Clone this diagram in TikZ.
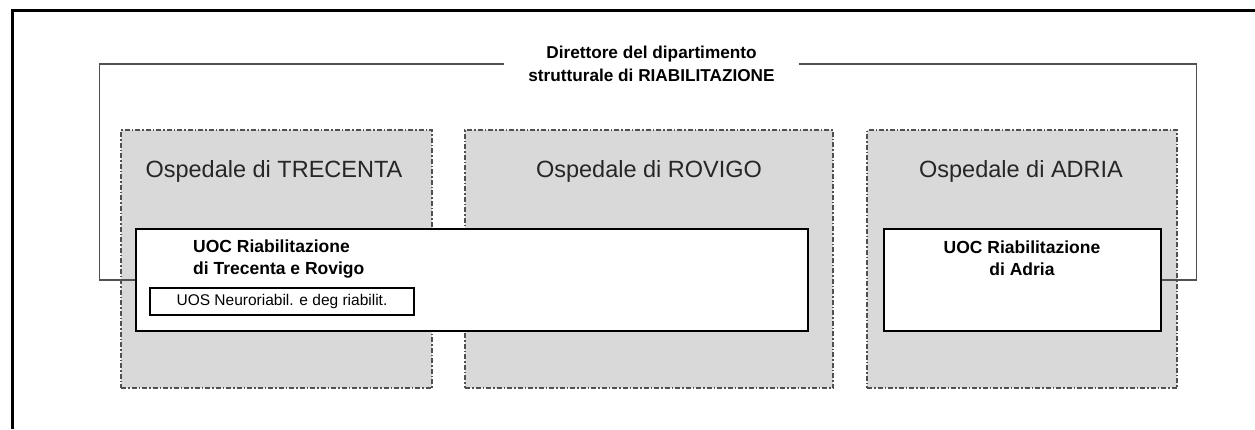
\documentclass[tikz,border=0pt]{standalone}
\usepackage{fontspec}
\setmainfont{Liberation Sans}
\usepackage{xcolor}
\definecolor{boxgray}{HTML}{D9D9D9}
\definecolor{linegray}{HTML}{505050}
\begin{document}
\begin{tikzpicture}[
	x = 1pt, y = -1pt,
	hosp/.style = {draw = linegray, fill = boxgray, line width = 1.1pt,
		dash pattern = on 5pt off 2pt on 1.5pt off 2pt, rectangle, inner sep = 0pt},
	hosptitle/.style = {inner sep = 0pt, font = \fontsize{23.5}{28}\selectfont, text = black!85},
	unit/.style = {draw, fill = white, line width = 1.5pt, rectangle, inner sep = 0pt},
	unitlabel/.style = {inner sep = 0pt, font = \fontsize{17.5}{22.5}\selectfont\bfseries},
	conn/.style = {draw = linegray, line width = 1.2pt}
]
\useasboundingbox (0,0) rectangle (1255,429);
\draw[line width = 3pt] (12,429) |- (1255,10);
\node[hosp, minimum width = 311pt, minimum height = 258pt] (trecenta) at (276.5,259) {};
\node[hosp, minimum width = 368pt, minimum height = 258pt] (rovigo) at (649,259) {};
\node[hosp, minimum width = 310pt, minimum height = 258pt] (adria) at (1022,259) {};
\node[hosptitle] (trecentatitle) at (274,171) {Ospedale di TRECENTA};
\node[hosptitle] (rovigotitle) at (649,171) {Ospedale di ROVIGO};
\node[hosptitle] (adriatitle) at (1021,171) {Ospedale di ADRIA};
\node[unit, minimum width = 672pt, minimum height = 102pt] (uoctr) at (472,280) {};
\node[unit, minimum width = 277pt, minimum height = 102pt] (uocad) at (1022.5,280) {};
\node[unitlabel, align = left, anchor = west] (uoctrlabel) at (193,259) {UOC Riabilitazione\\di Trecenta e Rovigo};
\node[unitlabel, align = center] (uocadlabel) at (1022,258) {UOC Riabilitazione\\di Adria};
\node[unit, line width = 1.2pt, minimum width = 264pt, minimum height = 27pt,
	font = \fontsize{15.5}{18}\selectfont] (uos) at (282,301.5) {UOS Neuroriabil. e deg riabilit.};
\node[inner xsep = 24pt, inner ysep = 0pt, align = center,
	font = \fontsize{17.2}{23}\selectfont\bfseries] (dir) at (651.5,64) {Direttore del dipartimento\\strutturale di RIABILITAZIONE};
\draw[conn] (uoctr.west) -- ++(-36,0) |- (dir.west);
\draw[conn] (uocad.east) -- ++(35,0) |- (dir.east);
\end{tikzpicture}
\end{document}
